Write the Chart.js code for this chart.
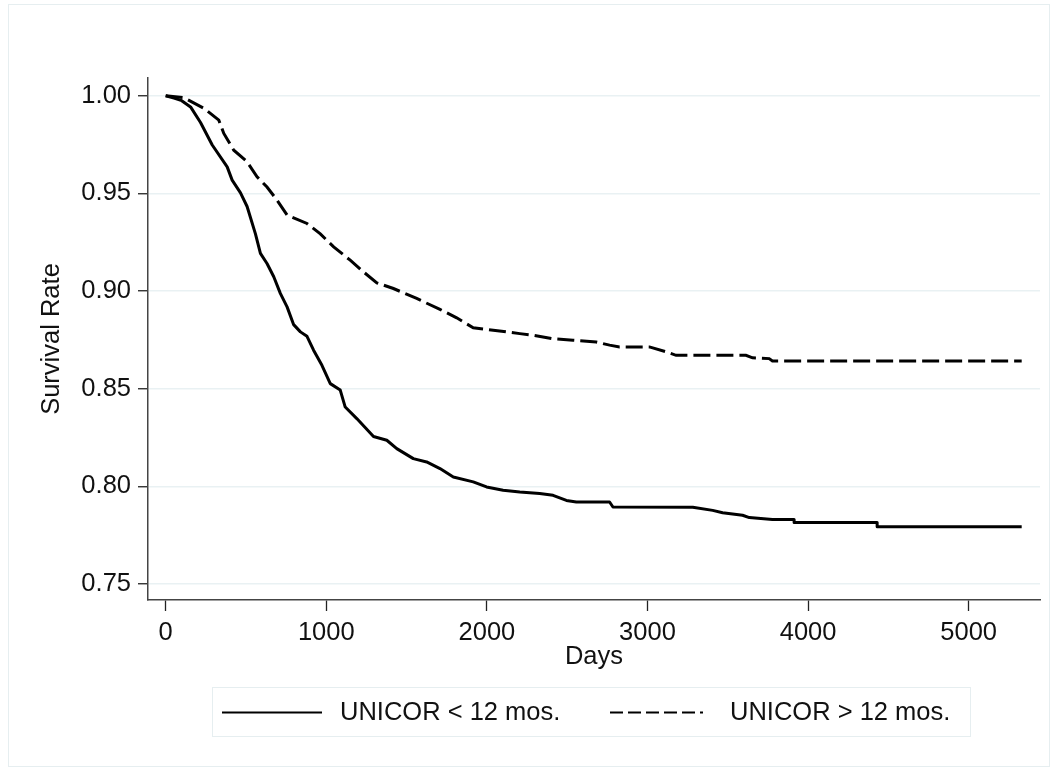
<!DOCTYPE html>
<html>
<head>
<meta charset="utf-8">
<script src="https://cdn.jsdelivr.net/npm/chart.js@4"></script>
<style>
  body { margin: 0; background: #fff; }
  #wrap { width: 1057px; height: 772px; }
</style>
</head>
<body>
<div id="wrap"><canvas id="survivalChart" width="1057" height="772"></canvas></div>
<script>
// Kaplan-Meier estimates
const shortDays = [0, 52, 100, 155, 217, 290, 383, 414, 466, 507, 559, 590, 631, 673, 714, 756, 797, 839, 880, 921, 973, 1025, 1087, 1118, 1190, 1294, 1377, 1439, 1542, 1625, 1708, 1791, 1915, 1998, 2101, 2205, 2329, 2412, 2495, 2557, 2764, 2785, 3282, 3406, 3468, 3592, 3634, 3778, 3913, 3913, 4430, 4430, 5330];
const shortSurv = [1.000, 0.9988, 0.9975, 0.9943, 0.9863, 0.9748, 0.9636, 0.9568, 0.9503, 0.9433, 0.9293, 0.9193, 0.9141, 0.9073, 0.8988, 0.8919, 0.8828, 0.8791, 0.8768, 0.8697, 0.8620, 0.8526, 0.8493, 0.8406, 0.8347, 0.8255, 0.8236, 0.8193, 0.8142, 0.8125, 0.8091, 0.8048, 0.8023, 0.7997, 0.7980, 0.7971, 0.7963, 0.7954, 0.7928, 0.7920, 0.7920, 0.7894, 0.7893, 0.7877, 0.7865, 0.7852, 0.7840, 0.7830, 0.7830, 0.7815, 0.7815, 0.7793, 0.7793];

const longDays = [0, 114, 238, 331, 362, 424, 507, 569, 631, 694, 756, 880, 963, 1046, 1149, 1232, 1315, 1418, 1563, 1708, 1812, 1915, 1998, 2122, 2205, 2288, 2412, 2536, 2681, 2764, 2826, 3012, 3116, 3178, 3613, 3654, 3758, 3778, 5330];
const longSurv = [1.000, 0.9990, 0.9936, 0.9875, 0.9807, 0.9721, 0.9662, 0.9585, 0.9533, 0.9465, 0.9389, 0.9346, 0.9293, 0.9226, 0.9158, 0.9098, 0.9042, 0.9013, 0.8962, 0.8906, 0.8863, 0.8812, 0.8804, 0.8791, 0.8782, 0.8774, 0.8756, 0.8748, 0.8739, 0.8723, 0.8714, 0.8714, 0.8689, 0.8671, 0.8671, 0.8658, 0.8654, 0.8642, 0.8642];

const xTicks = [0, 1000, 2000, 3000, 4000, 5000];
const yTicks = [0.75, 0.80, 0.85, 0.90, 0.95, 1.00];
const seriesLabels = ['UNICOR < 12 mos.', 'UNICOR > 12 mos.'];

const fontFamily = '"Liberation Sans", Arial, Helvetica, sans-serif';
const textFont = { family: fontFamily, size: 25.5 };

function toPoints(xs, ys) {
    return xs.map((x, i) => ({ x: x, y: ys[i] }));
}

// frame around the figure and the boxed legend below the plot
const stataDecor = {
    id: 'stataDecor',
    beforeDraw(chart) {
        const ctx = chart.ctx;
        ctx.save();
        ctx.fillStyle = '#fff';
        ctx.fillRect(0, 0, chart.width, chart.height);
        ctx.strokeStyle = '#e6eef0';
        ctx.lineWidth = 1;
        ctx.strokeRect(8.5, 4.5, 1041, 762);
        ctx.restore();
    },
    afterDraw(chart) {
        const ctx = chart.ctx;
        const lineX = [222, 610];
        const lineLen = [100, 93];
        const textX = [340, 730];
        const legendDash = [[], [13, 5]];
        ctx.save();
        ctx.strokeStyle = '#e6eef0';
        ctx.lineWidth = 1;
        ctx.strokeRect(212.5, 687.5, 758, 49);
        chart.data.datasets.forEach((ds, i) => {
            ctx.strokeStyle = ds.borderColor;
            ctx.lineWidth = 2;
            ctx.setLineDash(legendDash[i]);
            ctx.beginPath();
            ctx.moveTo(lineX[i], 712.5);
            ctx.lineTo(lineX[i] + lineLen[i], 712.5);
            ctx.stroke();
            ctx.setLineDash([]);
            ctx.fillStyle = '#111';
            ctx.font = textFont.size + 'px ' + fontFamily;
            ctx.textAlign = 'left';
            ctx.textBaseline = 'middle';
            ctx.fillText(ds.label, textX[i], 713);
        });
        ctx.restore();
    }
};

const ctx = document.getElementById('survivalChart').getContext('2d');
new Chart(ctx, {
    type: 'line',
    data: {
        datasets: [
            {
                label: seriesLabels[0],
                data: toPoints(shortDays, shortSurv),
                borderColor: '#000',
                borderWidth: 3,
                pointRadius: 0,
                tension: 0,
                borderJoinStyle: 'round'
            },
            {
                label: seriesLabels[1],
                data: toPoints(longDays, longSurv),
                borderColor: '#000',
                borderWidth: 3,
                borderDash: [17, 6],
                pointRadius: 0,
                tension: 0
            }
        ]
    },
    options: {
        responsive: false,
        animation: false,
        devicePixelRatio: 1,
        layout: { padding: { top: 78, right: 17, bottom: 0, left: 0 } },
        plugins: {
            legend: { display: false },
            tooltip: { enabled: false }
        },
        scales: {
            x: {
                type: 'linear',
                min: -110,
                max: 5444,
                afterBuildTicks: s => { s.ticks = xTicks.map(v => ({ value: v })); },
                afterFit: s => { s.height = 172; },
                border: { color: '#444', width: 1.5 },
                grid: { drawOnChartArea: false, tickColor: '#222', tickWidth: 1.3, tickLength: 11 },
                ticks: { padding: 7, maxRotation: 0, autoSkip: false, color: '#111', font: textFont, callback: v => String(v) },
                title: { display: true, text: 'Days', color: '#111', font: textFont, padding: { top: 0, bottom: 100 } }
            },
            y: {
                min: 0.7418,
                max: 1.0091,
                afterBuildTicks: s => { s.ticks = yTicks.map(v => ({ value: v })); },
                afterFit: s => { s.width = 148; },
                border: { color: '#444', width: 1.5 },
                grid: { color: '#e9f1f3', lineWidth: 1.5, tickColor: '#222', tickWidth: 1.3, tickLength: 10 },
                ticks: { padding: 7, color: '#111', font: textFont, callback: v => v.toFixed(2) },
                title: { display: true, text: 'Survival Rate', color: '#111', font: textFont, padding: { top: 37, bottom: 0 } }
            }
        }
    },
    plugins: [stataDecor]
});
</script>
</body>
</html>
